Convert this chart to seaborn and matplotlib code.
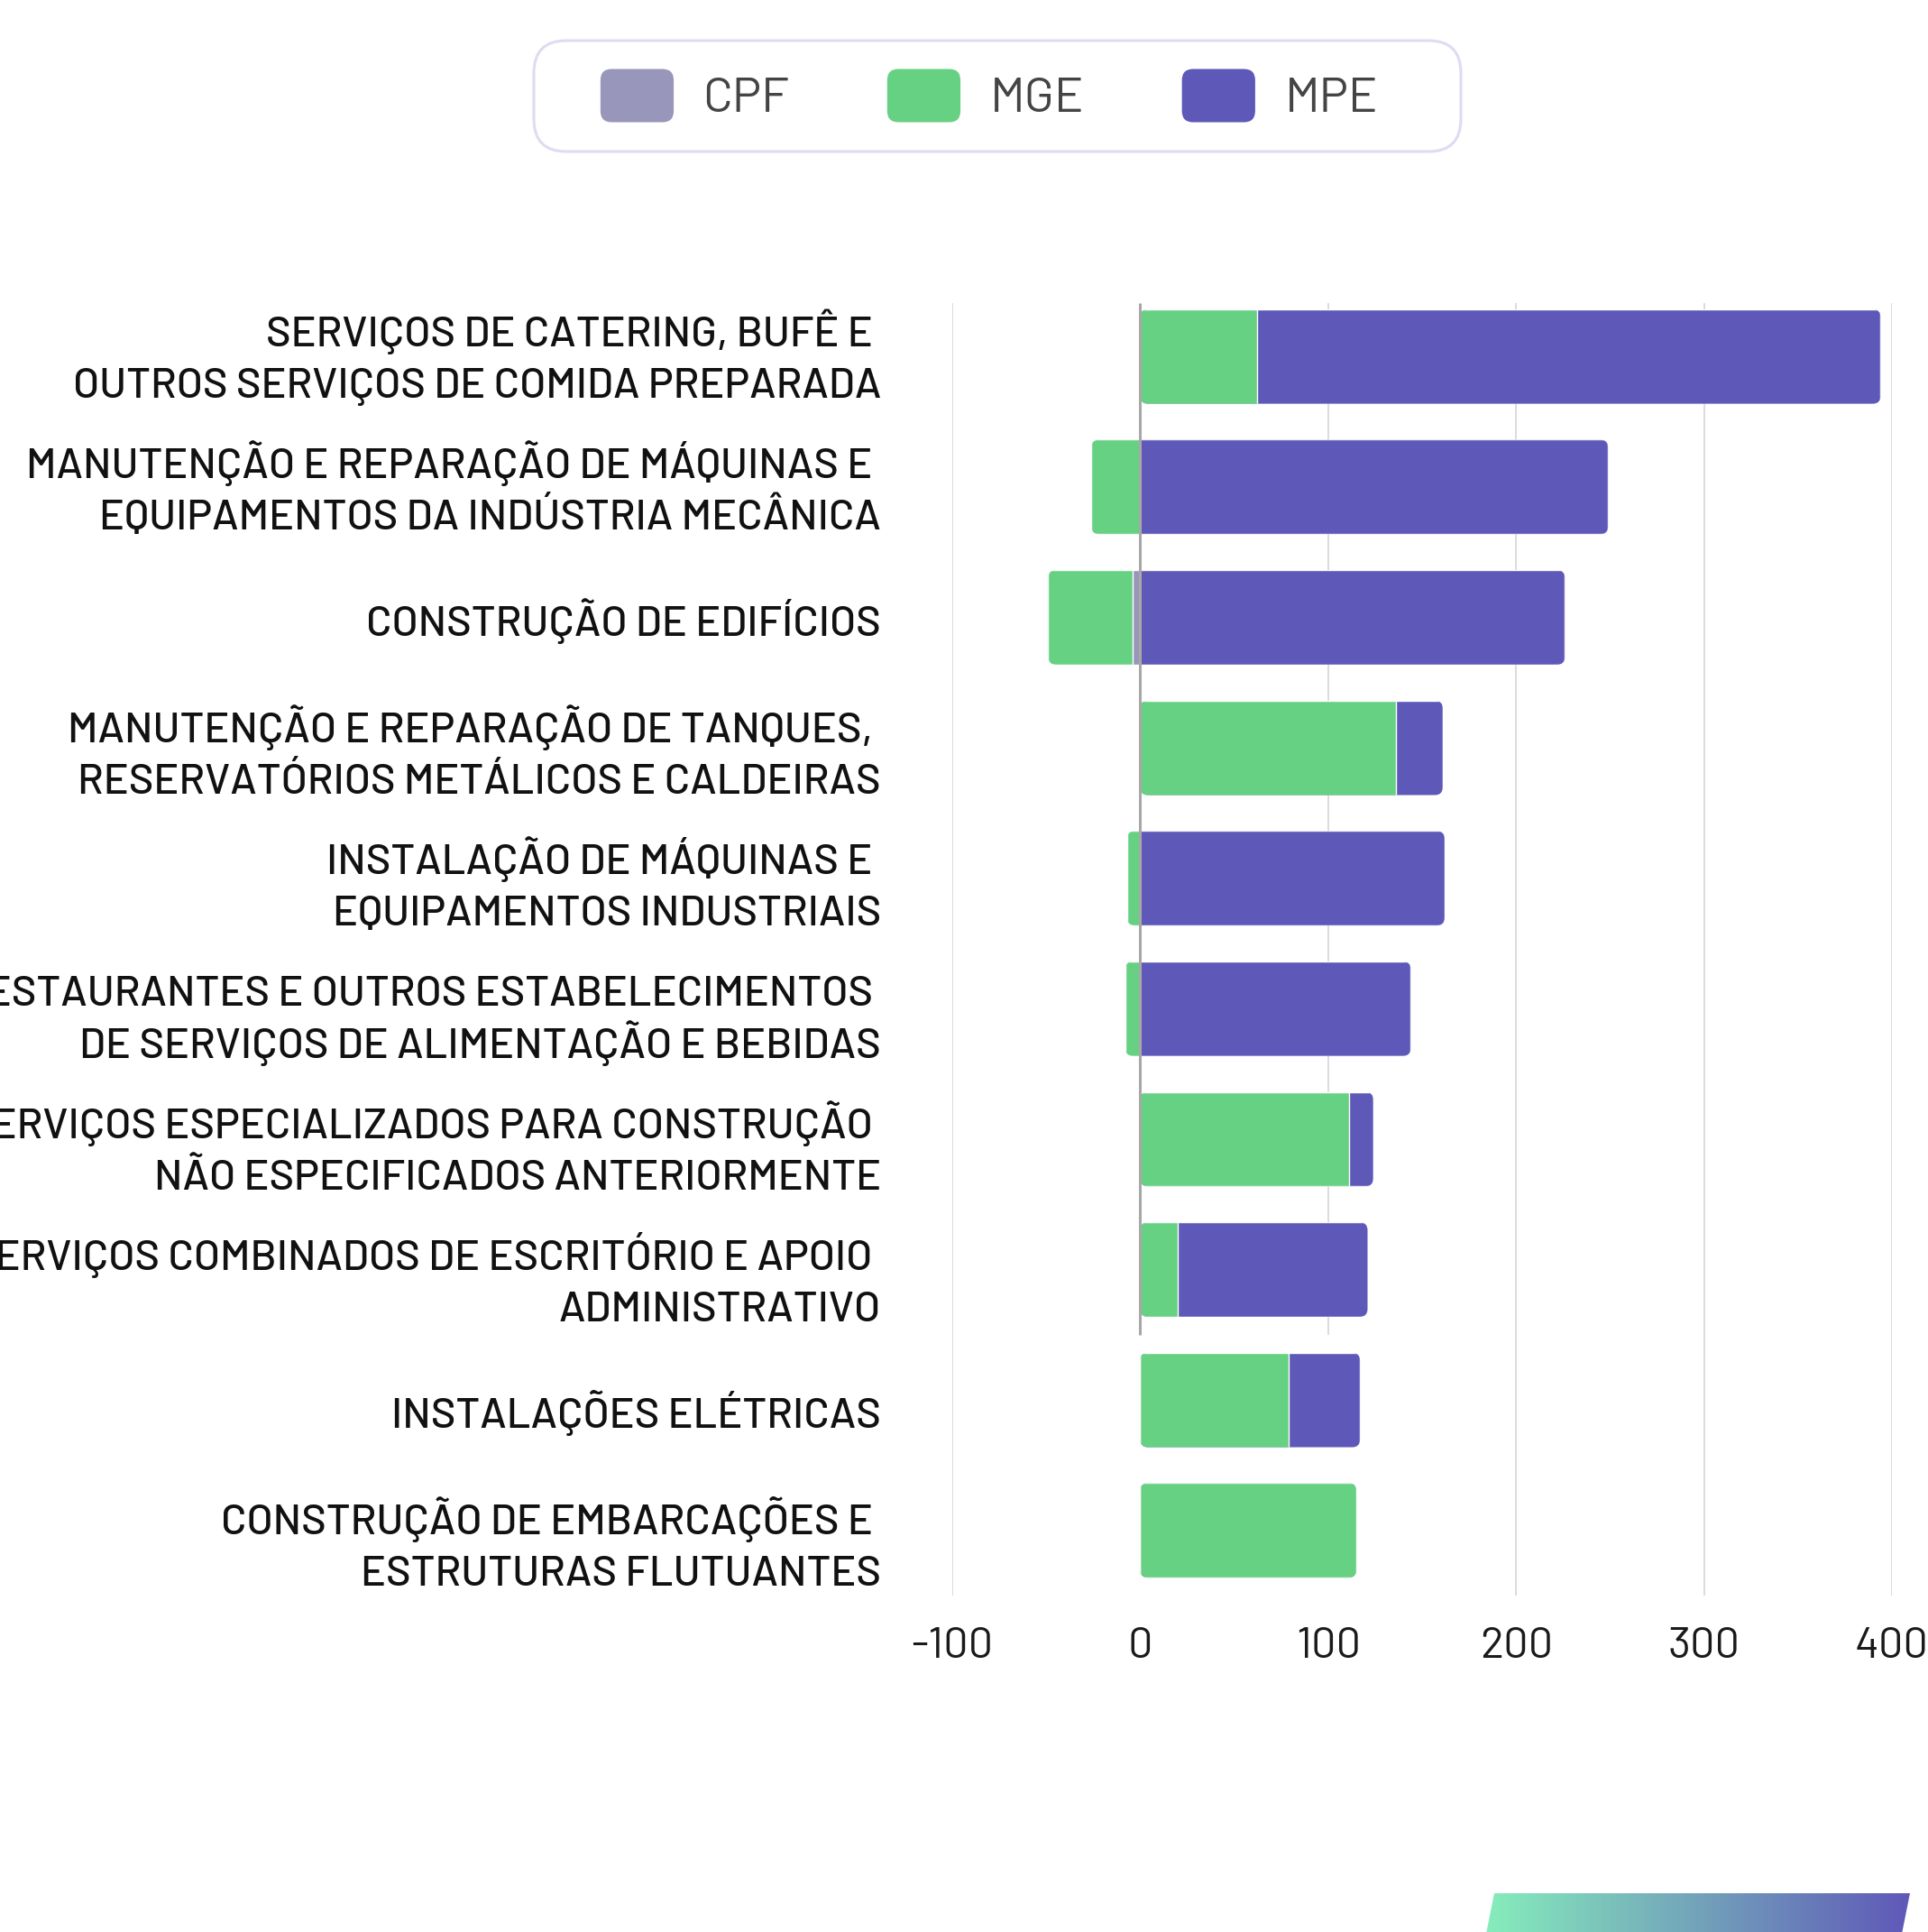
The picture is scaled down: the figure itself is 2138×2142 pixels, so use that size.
import numpy as np
import pandas as pd
import seaborn as sns
import matplotlib.pyplot as plt
from matplotlib import font_manager
from matplotlib.patches import FancyBboxPatch, Patch, Polygon
from matplotlib.legend_handler import HandlerPatch
from matplotlib.colors import LinearSegmentedColormap

# data
categories = [
    "SERVIÇOS DE CATERING, BUFÊ E \nOUTROS SERVIÇOS DE COMIDA PREPARADA",
    "MANUTENÇÃO E REPARAÇÃO DE MÁQUINAS E \nEQUIPAMENTOS DA INDÚSTRIA MECÂNICA",
    "CONSTRUÇÃO DE EDIFÍCIOS",
    "MANUTENÇÃO E REPARAÇÃO DE TANQUES, \nRESERVATÓRIOS METÁLICOS E CALDEIRAS",
    "INSTALAÇÃO DE MÁQUINAS E \nEQUIPAMENTOS INDUSTRIAIS",
    "RESTAURANTES E OUTROS ESTABELECIMENTOS \nDE SERVIÇOS DE ALIMENTAÇÃO E BEBIDAS",
    "SERVIÇOS ESPECIALIZADOS PARA CONSTRUÇÃO \nNÃO ESPECIFICADOS ANTERIORMENTE",
    "SERVIÇOS COMBINADOS DE ESCRITÓRIO E APOIO \nADMINISTRATIVO",
    "INSTALAÇÕES ELÉTRICAS",
    "CONSTRUÇÃO DE EMBARCAÇÕES E \nESTRUTURAS FLUTUANTES",
]
cpf = [0, 0, -4, 0, 0, 0, 0, 0, 0, 0]
mge = [62, -26, -45, 136, -7, -8, 111, 20, 79, 115]
mpe = [332, 249, 226, 25, 162, 144, 13, 101, 38, 0]
series = ["CPF", "MGE", "MPE"]
colors = {"CPF": "#9996bc", "MGE": "#66d182", "MPE": "#5e58b8"}
xticks = [-100, 0, 100, 200, 300, 400]
xtick_labels = ["-100", "0", "100", "200", "300", "400"]
# gridlines at 0 and 100 stop above the last two rows in the reference
grid_bottom = {-100: 9.5, 0: 7.5, 100: 7.5, 200: 9.5, 300: 9.5, 400: 9.5}

# pick a narrow font if one is there
names = {f.name for f in font_manager.fontManager.ttflist}
font = "Roboto"
for cand in ["Barlow", "Barlow Semi Condensed", "Roboto Condensed", "Liberation Sans Narrow",
             "Open Sans Condensed", "Roboto"]:
    if cand in names:
        font = cand
        break

sns.set_theme(style="white")
plt.rcParams["font.family"] = [font, "DejaVu Sans"]

df = pd.DataFrame({"cat": categories, "CPF": cpf, "MGE": mge, "MPE": mpe})
# stacked ends: negatives stack CPF then MGE, positives stack MGE then MPE
df["mpe_end"] = df["MGE"].clip(lower=0) + df["MPE"]
df["mge_end"] = np.where(df["MGE"] < 0, df["MGE"] + df["CPF"].clip(upper=0), df["MGE"])

W, H = 2138, 2142
fig = plt.figure(figsize=(W / 100, H / 100), dpi=100)
ax = fig.add_axes([1056 / W, 1 - 1772 / H, (2098 - 1056) / W, (1772 - 336) / H])

bw = 0.725
for col, s in [("mpe_end", "MPE"), ("mge_end", "MGE"), ("CPF", "CPF")]:
    sns.barplot(data=df, x=col, y="cat", color=colors[s], saturation=1, width=bw,
                orient="h", ax=ax, zorder=3)

ytop, ybot = -0.41, len(categories) - 0.5 + 0.02
ax.set_xlim(-100, 400)
ax.set_ylim(ybot, ytop)

# rounded outer ends: clip every segment with a rounded box spanning the whole row
px_x = (2098 - 1056) / 500
px_y = (1772 - 336) / (ybot - ytop)
r_px = 9
for bar in ax.patches:
    y0 = bar.get_y()
    i = int(round(y0 + bar.get_height() / 2))
    lo = min(0, df["mge_end"][i], df["CPF"][i])
    hi = max(0, df["mpe_end"][i], df["mge_end"][i])
    clip = FancyBboxPatch((lo, y0), hi - lo, bar.get_height(),
                          boxstyle=f"round,pad=0,rounding_size={r_px / px_x}",
                          mutation_aspect=px_x / px_y, transform=ax.transData)
    bar.set_clip_path(clip)

# gridlines
for t in xticks:
    if t == 0:
        continue
    ax.vlines(t, ytop, grid_bottom[t], color="#dcdcdc", lw=1.4, zorder=1)
ax.vlines(0, ytop, grid_bottom[0], color="#a8a8a8", lw=2.2, zorder=4)

for s in ax.spines.values():
    s.set_visible(False)
ax.set_xlabel("")
ax.set_ylabel("")
ax.set_xticks(xticks)
ax.set_xticklabels(xtick_labels, fontsize=35, color="#1a1a1a")
ax.tick_params(axis="x", length=0, pad=23)
ax.tick_params(axis="y", length=0)
ax.set_yticklabels([])

# category labels, one text per line so every row gets the same line gap;
# the label column is spaced a touch wider than the bars, as in the reference
line_gap = 0.198 * 2       # between line centres, data units
cap_half = 15.5 / px_y     # baseline sits half a cap height below the line centre
row_step, row_shift = 1.0122, 0.0094
lab_x = -79 / (2098 - 1056)
for i, cat in enumerate(categories):
    lines = cat.split("\n")
    n = len(lines)
    for k, line in enumerate(lines):
        yc = i * row_step + row_shift + (k - (n - 1) / 2) * line_gap
        ax.text(lab_x, yc + cap_half, line, transform=ax.get_yaxis_transform(),
                ha="right", va="baseline", fontsize=33.7, fontweight="medium",
                color="#111111", clip_on=False)


def rounded_handle(legend, orig_handle, xdescent, ydescent, width, height, fontsize):
    return FancyBboxPatch((-xdescent, -ydescent), width, height,
                          boxstyle="round,pad=0,rounding_size=9")


handles = [Patch(facecolor=colors[s], edgecolor="none", label=s) for s in series]
leg = fig.legend(handles=handles, loc="center", bbox_to_anchor=(1097 / W, 1 - 106 / H),
                 ncol=3, fontsize=39, frameon=False,
                 handlelength=1.5, handleheight=1.3, handletextpad=0.6,
                 columnspacing=2.0, borderpad=0.55, borderaxespad=0,
                 handler_map={Patch: HandlerPatch(patch_func=rounded_handle)})
for t in leg.get_texts():
    t.set_color("#444444")
# legend frame, wider than matplotlib's uniform padding allows
fig.patches.append(FancyBboxPatch((592, H - 168), 1620 - 592, 123,
                                  boxstyle="round,pad=0,rounding_size=36",
                                  transform=None, facecolor="white",
                                  edgecolor="#dcdcf2", linewidth=2.2, zorder=0))

# gradient strip in the lower right corner
gax = fig.add_axes([0, 0, 1, 1], zorder=-1)
gax.set_xlim(0, W)
gax.set_ylim(0, H)
gax.axis("off")
grad = np.linspace(0, 1, 256).reshape(1, -1)
cmap = LinearSegmentedColormap.from_list("strip", ["#86edbc", "#5f58b8"])
img = gax.imshow(grad, cmap=cmap, extent=[1648, 2118, -2, 43], aspect="auto")
poly = Polygon([[1648, -2], [1657, 43], [2118, 43], [2109, -2]], closed=True,
               transform=gax.transData, facecolor="none", edgecolor="none")
gax.add_patch(poly)
img.set_clip_path(poly)

fig.savefig("out.png", dpi=100, facecolor="white")
